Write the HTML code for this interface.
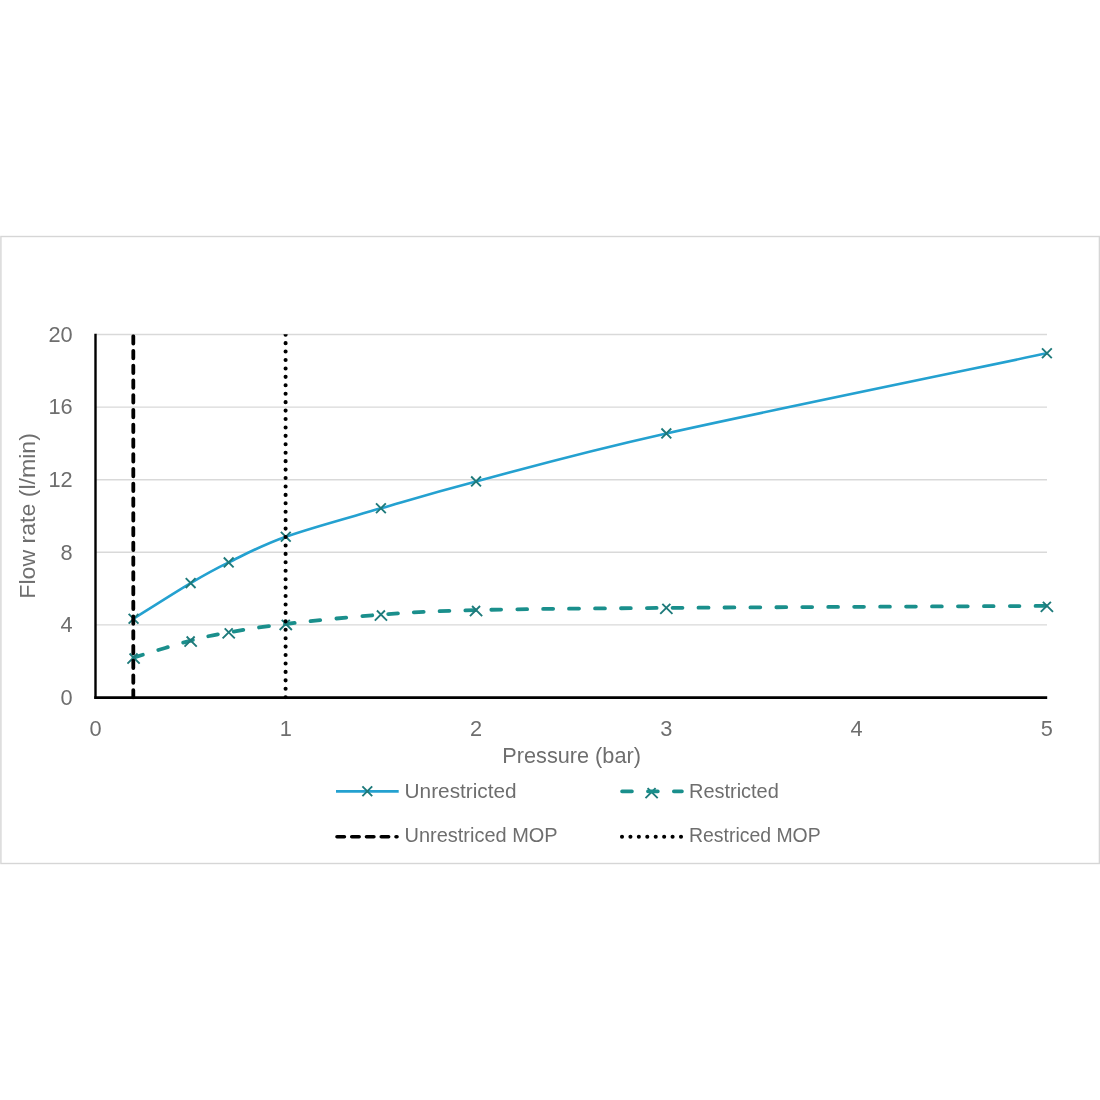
<!DOCTYPE html>
<html><head><meta charset="utf-8"><style>
html,body{margin:0;padding:0;background:#fff;width:1100px;height:1100px;overflow:hidden}
svg{display:block;will-change:transform}
.t{font-family:"Liberation Sans",sans-serif;font-size:21.5px;fill:#6E6E6E}
.k{font-family:"Liberation Sans",sans-serif;font-size:22px;fill:#6E6E6E}
.l{font-family:"Liberation Sans",sans-serif;font-size:19.6px;fill:#6E6E6E}
</style></head><body>
<svg width="1100" height="1100" viewBox="0 0 1100 1100">
<defs><clipPath id="pa"><rect x="94" y="334.3" width="960" height="365"/></clipPath></defs>
<rect x="0.9" y="236.5" width="1098.5" height="627" fill="#fff" stroke="#D6D6D6" stroke-width="1.4"/>
<line x1="95.5" y1="624.90" x2="1047" y2="624.90" stroke="#D9D9D9" stroke-width="1.4"/><line x1="95.5" y1="552.30" x2="1047" y2="552.30" stroke="#D9D9D9" stroke-width="1.4"/><line x1="95.5" y1="479.70" x2="1047" y2="479.70" stroke="#D9D9D9" stroke-width="1.4"/><line x1="95.5" y1="407.10" x2="1047" y2="407.10" stroke="#D9D9D9" stroke-width="1.4"/><line x1="95.5" y1="334.50" x2="1047" y2="334.50" stroke="#D9D9D9" stroke-width="1.4"/>
<g clip-path="url(#pa)">
<path d="M133.56,618.70 C143.07,612.77 174.78,592.48 190.64,583.10 C206.50,573.72 212.84,570.13 228.70,562.40 C244.55,554.67 260.41,545.72 285.78,536.70 C311.15,527.68 349.21,517.52 380.92,508.30 C412.63,499.08 428.49,493.88 476.06,481.40 C523.63,468.92 571.20,454.75 666.34,433.40 C761.48,412.05 983.47,366.65 1046.90,353.30" stroke="#24A1D0" stroke-width="2.6" fill="none"/>
<path d="M128.66,613.80 L138.46,623.60 M128.66,623.60 L138.46,613.80" stroke="#1E7A7B" stroke-width="1.90" fill="none"/><path d="M185.74,578.20 L195.54,588.00 M185.74,588.00 L195.54,578.20" stroke="#1E7A7B" stroke-width="1.90" fill="none"/><path d="M223.80,557.50 L233.60,567.30 M223.80,567.30 L233.60,557.50" stroke="#1E7A7B" stroke-width="1.90" fill="none"/><path d="M280.88,531.80 L290.68,541.60 M280.88,541.60 L290.68,531.80" stroke="#1E7A7B" stroke-width="1.90" fill="none"/><path d="M376.02,503.40 L385.82,513.20 M376.02,513.20 L385.82,503.40" stroke="#1E7A7B" stroke-width="1.90" fill="none"/><path d="M471.16,476.50 L480.96,486.30 M471.16,486.30 L480.96,476.50" stroke="#1E7A7B" stroke-width="1.90" fill="none"/><path d="M661.44,428.50 L671.24,438.30 M661.44,438.30 L671.24,428.50" stroke="#1E7A7B" stroke-width="1.90" fill="none"/><path d="M1042.00,348.40 L1051.80,358.20 M1042.00,358.20 L1051.80,348.40" stroke="#1E7A7B" stroke-width="1.90" fill="none"/>
<path d="M133.56,657.60 C143.07,654.77 174.78,644.80 190.64,640.60 C206.50,636.40 212.84,635.17 228.70,632.40 C244.55,629.63 260.41,626.97 285.78,624.00 C311.15,621.03 349.21,616.92 380.92,614.60 C412.63,612.28 428.49,611.22 476.06,610.10 C523.63,608.98 571.20,608.60 666.34,607.90 C761.48,607.20 983.47,606.23 1046.90,605.90" stroke="#1A8F8C" stroke-width="3.8" fill="none" stroke-dasharray="9.8 16.1" stroke-linecap="round"/>
<path d="M129.56,653.50 L139.66,663.60 M137.56,653.50 L127.46,663.60" stroke="#1E7A7B" stroke-width="1.90" fill="none"/><path d="M186.64,636.50 L196.74,646.60 M194.64,636.50 L184.54,646.60" stroke="#1E7A7B" stroke-width="1.90" fill="none"/><path d="M224.70,628.30 L234.80,638.40 M232.70,628.30 L222.60,638.40" stroke="#1E7A7B" stroke-width="1.90" fill="none"/><path d="M281.78,619.90 L291.88,630.00 M289.78,619.90 L279.68,630.00" stroke="#1E7A7B" stroke-width="1.90" fill="none"/><path d="M376.92,610.50 L387.02,620.60 M384.92,610.50 L374.82,620.60" stroke="#1E7A7B" stroke-width="1.90" fill="none"/><path d="M472.06,606.00 L482.16,616.10 M480.06,606.00 L469.96,616.10" stroke="#1E7A7B" stroke-width="1.90" fill="none"/><path d="M662.34,603.80 L672.44,613.90 M670.34,603.80 L660.24,613.90" stroke="#1E7A7B" stroke-width="1.90" fill="none"/><path d="M1042.90,601.80 L1053.00,611.90 M1050.90,601.80 L1040.80,611.90" stroke="#1E7A7B" stroke-width="1.90" fill="none"/>
<path d="M133.3,697.5 L133.3,334" stroke="#000" stroke-width="3.8" fill="none" stroke-dasharray="7.4 7.35" stroke-linecap="round"/>
<path d="M285.6,697.2 L285.6,330" stroke="#000" stroke-width="4.1" fill="none" stroke-dasharray="0 8.43" stroke-linecap="round"/>
</g>
<line x1="95.5" y1="333.8" x2="95.5" y2="698.8" stroke="#000" stroke-width="2.4"/>
<line x1="94.3" y1="697.6" x2="1047.2" y2="697.6" stroke="#000" stroke-width="2.6"/>
<text transform="translate(72.6,704.70) scale(0.99,1)" text-anchor="end" class="k">0</text><text transform="translate(72.6,632.10) scale(0.99,1)" text-anchor="end" class="k">4</text><text transform="translate(72.6,559.50) scale(0.99,1)" text-anchor="end" class="k">8</text><text transform="translate(72.6,486.90) scale(0.99,1)" text-anchor="end" class="k">12</text><text transform="translate(72.6,414.30) scale(0.99,1)" text-anchor="end" class="k">16</text><text transform="translate(72.6,341.70) scale(0.99,1)" text-anchor="end" class="k">20</text>
<text transform="translate(95.50,735.9) scale(0.99,1)" text-anchor="middle" class="k">0</text><text transform="translate(285.78,735.9) scale(0.99,1)" text-anchor="middle" class="k">1</text><text transform="translate(476.06,735.9) scale(0.99,1)" text-anchor="middle" class="k">2</text><text transform="translate(666.34,735.9) scale(0.99,1)" text-anchor="middle" class="k">3</text><text transform="translate(856.62,735.9) scale(0.99,1)" text-anchor="middle" class="k">4</text><text transform="translate(1046.90,735.9) scale(0.99,1)" text-anchor="middle" class="k">5</text>
<text x="502.3" y="762.9" class="t" textLength="138.6" lengthAdjust="spacingAndGlyphs">Pressure (bar)</text>
<text transform="translate(34.8,598.7) rotate(-90)" class="t" textLength="165.6" lengthAdjust="spacingAndGlyphs">Flow rate (l/min)</text>
<!-- legend -->
<line x1="336" y1="791.4" x2="398.7" y2="791.4" stroke="#24A1D0" stroke-width="2.6"/>
<path d="M362.40,786.30 L372.20,796.10 M362.40,796.10 L372.20,786.30" stroke="#1E7A7B" stroke-width="1.90" fill="none"/>
<text x="404.6" y="797.6" class="l" textLength="112" lengthAdjust="spacingAndGlyphs">Unrestricted</text>
<path d="M647.60,788.10 L657.70,798.20 M655.60,788.10 L645.50,798.20" stroke="#1E7A7B" stroke-width="1.90" fill="none"/>
<path d="M622,791.4 L682,791.4" stroke="#1A8F8C" stroke-width="3.6" stroke-dasharray="10 15.9" stroke-linecap="round"/>
<text x="689" y="797.6" class="l" textLength="89.8" lengthAdjust="spacingAndGlyphs">Restricted</text>
<path d="M337,836.7 L397,836.7" stroke="#000" stroke-width="3.6" stroke-dasharray="7.4 7.35" stroke-linecap="round"/>
<text x="404.6" y="842.2" class="l" textLength="153" lengthAdjust="spacingAndGlyphs">Unrestriced MOP</text>
<path d="M622,836.7 L682,836.7" stroke="#000" stroke-width="4.1" stroke-dasharray="0 8.43" stroke-linecap="round"/>
<text x="689" y="842.2" class="l" textLength="131.7" lengthAdjust="spacingAndGlyphs">Restriced MOP</text>
</svg>
</body></html>
